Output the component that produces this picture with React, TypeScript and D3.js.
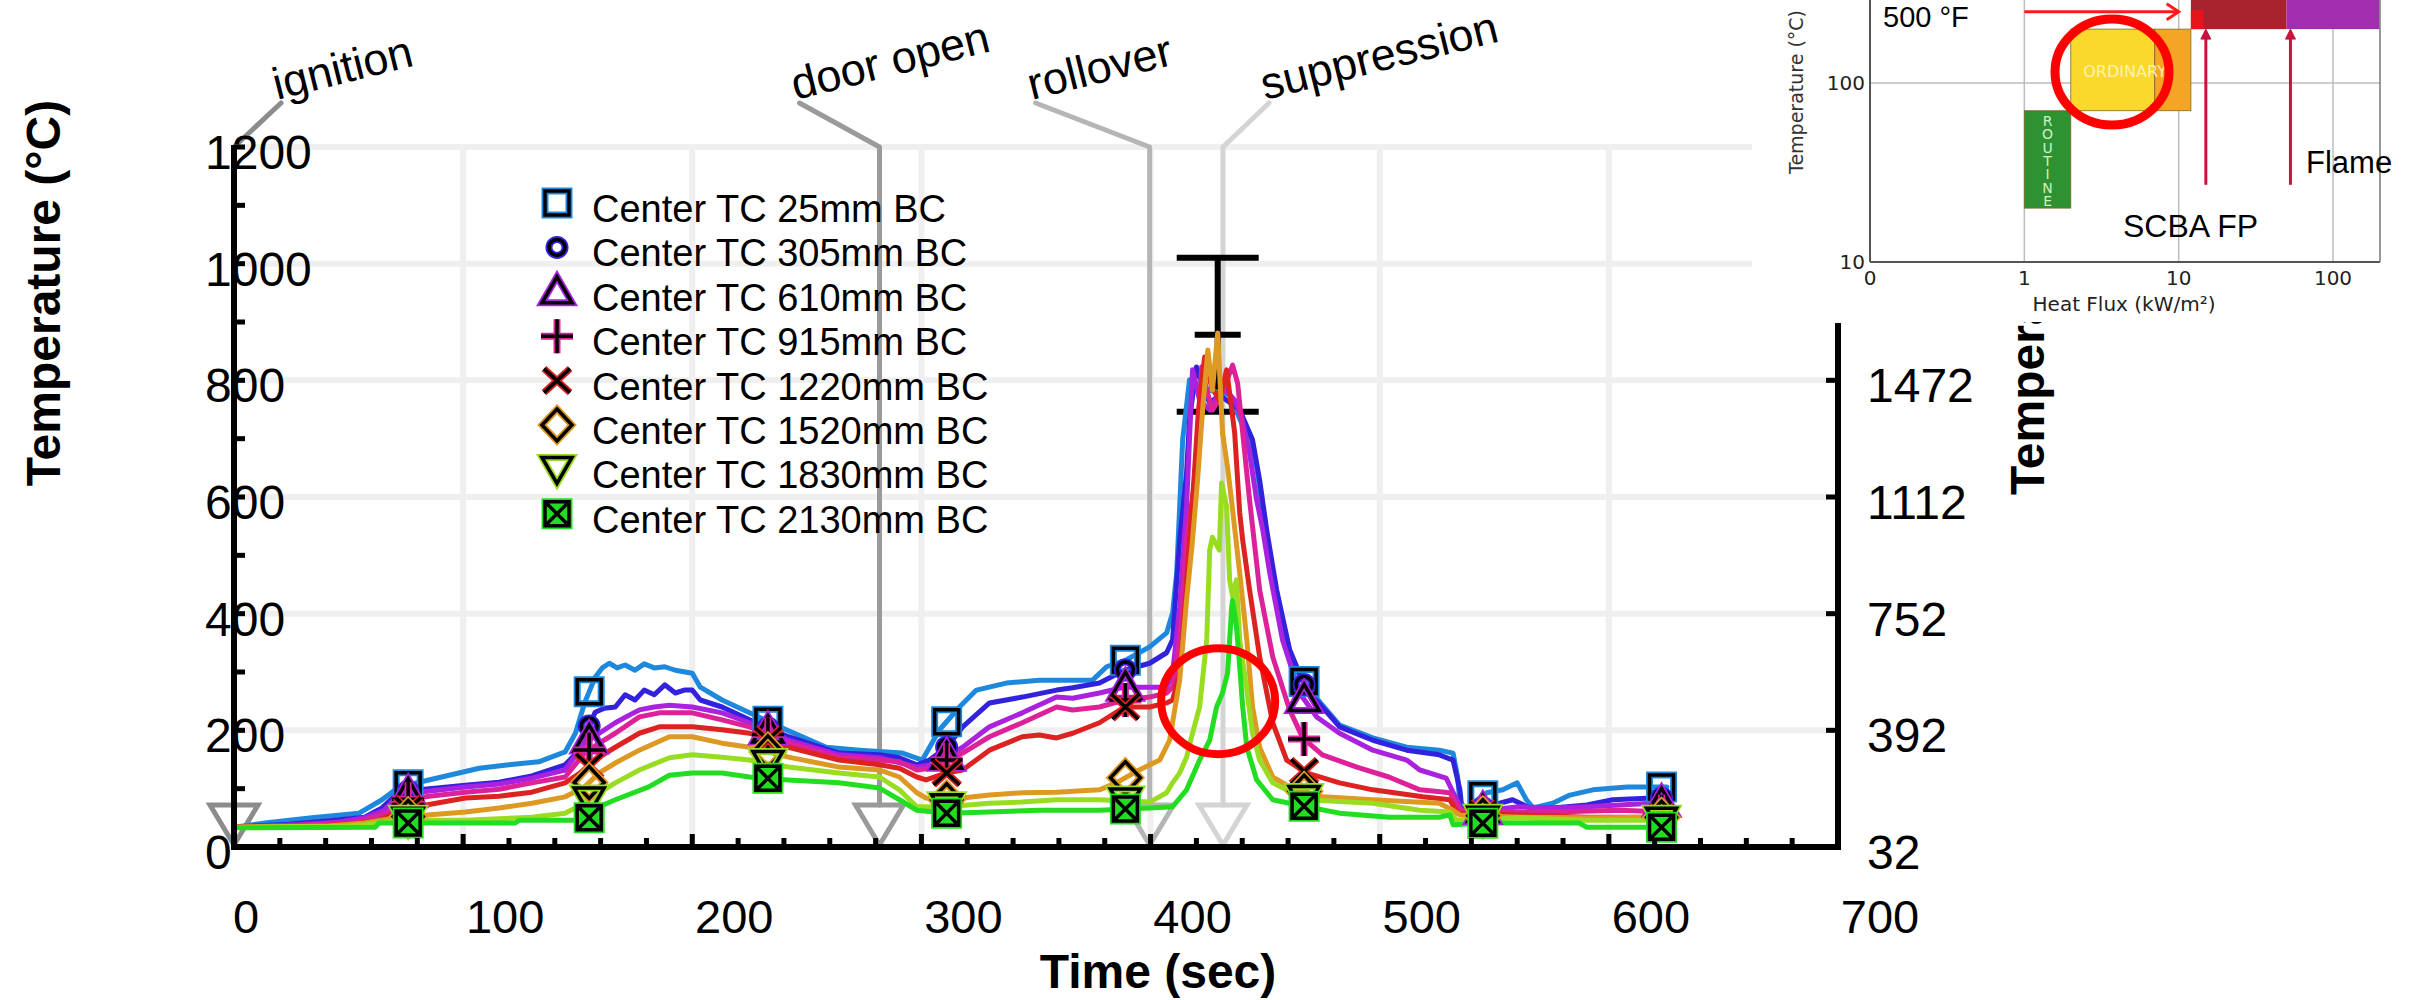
import React from "react";
import * as d3 from "d3";

type Pt = [number, number];

const FONT = "'Liberation Sans', Arial, Helvetica, sans-serif";
const INSET_FONT = "'DejaVu Sans', Verdana, sans-serif";

// ---------------- data ----------------
const seriesNames = [
  "Center TC 25mm BC",
  "Center TC 305mm BC",
  "Center TC 610mm BC",
  "Center TC 915mm BC",
  "Center TC 1220mm BC",
  "Center TC 1520mm BC",
  "Center TC 1830mm BC",
  "Center TC 2130mm BC",
];
const seriesColors = ["#1e88dd", "#3322dd", "#aa22dd", "#dd2299", "#dd2222", "#dd9922", "#99dd22", "#22dd22"];
const seriesMarkers = ["square", "circle", "triangleUp", "plus", "x", "diamond", "triangleDown", "squareX"];

const tc25: Pt[] = [
  [0, 34], [13.5, 41], [34, 50], [54.6, 58], [64.6, 81], [72, 103], [80.8, 111], [93.9, 123], [107, 135], [120, 141],
  [133, 146], [144.5, 163], [149, 195], [153, 247], [157.6, 291], [160.7, 307], [163.8, 315], [167.2, 307], [170.7, 312],
  [175, 303], [179, 314], [183.4, 307], [188, 309], [192.6, 303], [200, 298], [203.5, 274], [213, 252], [225, 230],
  [241, 201], [258.5, 171], [273, 166], [291.7, 161], [300.4, 149], [307.9, 201], [316.6, 240], [324, 269], [337, 281],
  [351.5, 286], [366, 286], [374.7, 286], [380.8, 309], [389.5, 321], [399.6, 343], [407, 367], [409.6, 401], [411.4, 470],
  [412.7, 583], [414, 698], [417, 801], [421.4, 792], [425.8, 783], [434.5, 775], [441, 715], [446.3, 651], [450.7, 526],
  [456.3, 411], [462, 312], [468, 278], [475, 243], [482.5, 209], [497, 187], [511.8, 171], [526, 166], [532, 161],
  [534, 120], [535, 75], [538, 67], [546.7, 93], [553.7, 98], [560, 110], [564, 81], [567, 67], [575.5, 75], [583, 89],
  [593, 98], [608, 103], [625.3, 103],
];
const tc305: Pt[] = [
  [0, 34], [24, 39], [41.5, 45], [57, 51], [64.6, 67], [72, 94], [80.8, 98], [101, 106], [115.7, 111], [130, 122],
  [144.5, 141], [150.7, 166], [153, 189], [157.6, 231], [161.6, 238], [166.4, 240], [170.7, 261], [175, 252], [179, 269],
  [183.4, 261], [188, 278], [192.6, 264], [196.5, 269], [200, 269], [203.5, 252], [213, 240], [225, 218], [242, 189],
  [264, 161], [281.7, 158], [290.4, 153], [298, 141], [303.5, 149], [311, 171], [318, 206], [329.7, 247], [344, 257],
  [359, 269], [366, 273], [377.7, 281], [388.6, 303], [399.6, 315], [407, 333], [409.6, 355], [412.7, 526], [415.7, 641],
  [417, 732], [420, 823], [422.7, 792], [425.8, 761], [430, 775], [433.2, 766], [438.9, 749], [444.5, 698], [447.6, 629],
  [450.7, 543], [455, 441], [460.7, 338], [468, 269], [475, 240], [482.5, 206], [497, 183], [511.8, 166], [526, 158],
  [532, 149], [535, 98], [536, 60], [546.7, 69], [558, 81], [565.5, 67], [575.5, 67], [590.4, 72], [601.7, 81],
  [619, 84], [625.3, 84],
];
const tc610: Pt[] = [
  [0, 34], [28.4, 38], [45.9, 43], [57, 50], [65.5, 63], [72, 89], [80.8, 94], [101, 103], [115.7, 108], [130, 118],
  [144.5, 132], [153, 178], [159.4, 195], [166.4, 213], [172.5, 226], [176.9, 235], [183.4, 240], [190, 243], [200, 240],
  [213, 230], [225, 213], [242, 183], [264, 158], [281.7, 153], [298, 137], [305.7, 141], [311, 154], [318, 171],
  [329.7, 206], [344, 230], [359, 257], [366, 255], [377.7, 264], [388.6, 274], [399.6, 274], [407, 274], [409.6, 298],
  [412.7, 411], [415.7, 583], [418.3, 818], [421.4, 766], [425.8, 749], [431.4, 789], [436.7, 766], [439.7, 737],
  [443.2, 675], [446.3, 595], [449, 543], [452, 470], [457.6, 355], [465, 264], [472.5, 223], [482.5, 195], [497, 166],
  [511.8, 149], [517.5, 132], [529, 118], [533.6, 81], [536, 60], [546.7, 63], [561, 69], [575.5, 67], [590.4, 69],
  [604.8, 72], [619, 75], [625.3, 75],
];
const tc915: Pt[] = [
  [0, 34], [32.8, 38], [50.2, 41], [57, 46], [67.7, 60], [74.2, 81], [85.2, 87], [101, 94], [115.7, 99], [130, 110],
  [144.5, 120], [153, 161], [159.4, 178], [166.4, 195], [176.9, 223], [185.6, 230], [200, 230], [213, 218], [225, 206],
  [242, 178], [264, 154], [281.7, 149], [290.4, 146], [298, 132], [303.5, 135], [311, 149], [318, 161], [329.7, 189],
  [344, 213], [359, 240], [366, 235], [377.7, 240], [388.6, 252], [399.6, 257], [407, 264], [409.6, 274], [412.7, 355],
  [415.7, 526], [420, 646], [422.3, 823], [424.5, 783], [427, 749], [431, 775], [435.8, 826], [438, 795], [440.2, 710],
  [443.2, 595], [447.6, 441], [453.3, 326], [460.7, 235], [466.4, 187], [475, 158], [490, 137], [504, 120], [517.5, 98],
  [530.6, 93], [535, 63], [546.7, 60], [575.5, 60], [604.8, 63], [625.3, 60],
];
const tc1220: Pt[] = [
  [0, 34], [37, 36], [54.6, 41], [63.3, 46], [72, 60], [80.8, 70], [101, 84], [115.7, 87], [130, 94], [144.5, 110],
  [153, 132], [159.4, 154], [166.4, 171], [176.9, 195], [185.6, 206], [200, 206], [213, 201], [225, 195], [242, 171],
  [264, 149], [281.7, 141], [290.4, 135], [298, 120], [302, 115], [311, 127], [318, 132], [329.7, 166], [344, 189],
  [351.5, 192], [359, 187], [366, 195], [377.7, 213], [388.6, 240], [399.6, 240], [407, 247], [409.6, 252], [412.7, 298],
  [414.8, 401], [417, 526], [419.2, 646], [420.9, 749], [423.6, 840], [426.6, 789], [430, 766], [433.2, 818], [434.5, 778],
  [436.7, 710], [438.9, 573], [440.2, 526], [443.2, 441], [447.6, 326], [453.3, 213], [459.4, 149], [468, 127],
  [482.5, 110], [497, 98], [518.8, 86], [530.6, 81], [534, 58], [561, 55], [590.4, 51], [625.3, 51],
];
const tc1520: Pt[] = [
  [0, 34], [41.5, 36], [57, 41], [72, 51], [101, 60], [115.7, 67], [130, 75], [144.5, 86], [153, 103], [159.4, 127],
  [166.4, 144], [176.9, 166], [190, 189], [200, 189], [213, 178], [225, 171], [242, 154], [264, 137], [281.7, 132],
  [290.4, 120], [298, 93], [302, 84], [311, 81], [329.7, 89], [344, 93], [359, 94], [377.7, 98], [385, 110], [395, 132],
  [404, 149], [408.3, 183], [412.7, 286], [415.7, 423], [418.3, 526], [420.5, 629], [422.7, 749], [425, 852], [427, 783],
  [429.3, 881], [431.4, 710], [433.6, 651], [435.8, 578], [438.9, 470], [442, 355], [444.5, 240], [447.6, 171],
  [453.3, 120], [460.7, 103], [475, 86], [497, 81], [526, 75], [532, 63], [535, 55], [561, 51], [590.4, 50], [625.3, 51],
];
const tc1830: Pt[] = [
  [0, 34], [50.2, 36], [57, 38], [72, 46], [101, 46], [130, 51], [144.5, 58], [153, 75], [159.4, 93], [166.4, 110],
  [176.9, 132], [190, 153], [200, 158], [213, 154], [225, 149], [242, 137], [264, 127], [281.7, 120], [290.4, 98],
  [298, 69], [311, 69], [329.7, 75], [344, 77], [359, 81], [377.7, 81], [399.6, 77], [407, 93], [409.6, 110], [412.7, 127],
  [415.7, 154], [418.3, 195], [421.4, 240], [424.5, 355], [425.8, 509], [427, 531], [430, 509], [431, 624], [433.2, 583],
  [434.5, 458], [435.8, 429], [437.5, 458], [438.9, 355], [442, 269], [444.5, 195], [447.6, 149], [453.3, 110], [468, 81],
  [497, 75], [517.5, 63], [530.6, 60], [533.6, 46], [561, 50], [590.4, 46], [625.3, 46],
];
const tc2130: Pt[] = [
  [0, 33], [61.6, 34], [63.3, 41], [122.7, 41], [124.5, 46], [149, 46], [155, 50], [159.4, 69], [166.4, 81], [181, 103],
  [190, 123], [200, 127], [213, 127], [225, 120], [242, 115], [264, 110], [281.7, 101], [290.4, 81], [298, 63], [311, 58],
  [329.7, 60], [351.5, 63], [377.7, 63], [399.6, 67], [409.6, 69], [415.7, 98], [421.4, 149], [425.8, 183], [428.8, 240],
  [431.4, 264], [433.6, 298], [435.4, 411], [435.8, 423], [437.5, 377], [438.9, 309], [440.2, 240], [442, 171],
  [446.3, 115], [453.3, 81], [468, 69], [482.5, 58], [504, 51], [526, 51], [530.6, 55], [532, 38], [546.7, 41], [587, 41],
  [590.4, 34], [625.3, 34],
];
const seriesData: Pt[][] = [tc25, tc305, tc610, tc915, tc1220, tc1520, tc1830, tc2130];

const markerTimes = [76, 155, 233, 311, 389, 467, 545, 623];

const xTickValues = [0, 100, 200, 300, 400, 500, 600, 700];
const xMinorTicks = d3.range(0, 701, 20);
const yTickValues = [0, 200, 400, 600, 800, 1000, 1200];
const yMinorTicks = [100, 300, 500, 700, 900, 1100];
const rightTicksC = [0, 200, 400, 600, 800];

const eventNames = ["ignition", "door open", "rollover", "suppression"];
const eventTimes = [0, 281.7, 399.6, 431.6];
const eventColors = ["#8c8c8c", "#9a9a9a", "#b5b5b5", "#d4d4d4"];
const eventLeaderDx = [47, -80, -114, 46];

const peakTime = 429.3;
const peakMean = 878;
const peakLow = 746;
const peakHigh = 1010;
const highlightTime = 429.5;
const highlightTemp = 250;

// inset (heat flux / temperature classes)
const insetFluxTicks = [0.1, 1, 10, 100];
const insetFluxTickLabels = ["0", "1", "10", "100"];
const insetTempTicks = [10, 100];
const insetBandNames = ["ROUTINE", "ORDINARY", "", "", "", ""];
const insetBandFlux: Pt[] = [[1, 2], [2, 7], [7, 12], [12, 50], [50, 200], [12, 14.5]];
const insetBandTemp: Pt[] = [[20, 70], [70, 200], [70, 200], [200, 400], [200, 400], [200, 255]];
const insetBandColors = ["#2f9232", "#fad82c", "#f5a524", "#a9232f", "#a02eae", "#e8141c"];

// ---------------- helpers ----------------
function valueAt(data: Pt[], t: number) {
  const i = d3.bisector((d: Pt) => d[0]).right(data, t);
  if (i <= 0) return data[0][1];
  if (i >= data.length) return data[data.length - 1][1];
  const [t0, v0] = data[i - 1];
  const [t1, v1] = data[i];
  return v0 + ((v1 - v0) * (t - t0)) / (t1 - t0);
}

const markerPaths: Record<string, string> = {
  square: "M-12,-12H12V12H-12Z",
  triangleUp: "M0,-15L15,11L-15,11Z",
  plus: "M-16,0H16M0,-17V17",
  x: "M-13,-12L13,12M-13,12L13,-12",
  diamond: "M0,-16L15,0L0,16L-15,0Z",
  triangleDown: "M-15,-12L15,-12L0,14Z",
  squareX: "M-12,-12H12V12H-12ZM-12,-12L12,12M-12,12L12,-12",
};

function Marker({ type, color, cx, cy }: { type: string; color: string; cx: number; cy: number }) {
  if (type === "circle") {
    return (
      <g transform={`translate(${cx},${cy})`}>
        <circle r={8} fill="none" stroke={color} strokeWidth={7} />
        <circle r={8} fill="none" stroke="#000" strokeWidth={3.5} />
      </g>
    );
  }
  const d = markerPaths[type];
  return (
    <g transform={`translate(${cx},${cy})`}>
      <path d={d} fill={type === "squareX" ? color : "none"} stroke={color} strokeWidth={7} strokeLinejoin="miter" />
      <path d={d} fill="none" stroke="#000" strokeWidth={3.5} strokeLinejoin="miter" />
    </g>
  );
}

export default function App() {
  const W = 2409;
  const H = 1000;
  const x = d3.scaleLinear().domain([0, 700]).range([234, 1838]);
  const y = d3.scaleLinear().domain([0, 1200]).range([847, 147]);
  const line = d3
    .line<Pt>()
    .x((d) => x(d[0]))
    .y((d) => y(d[1]));

  const ix = d3.scaleLog().domain([0.1, 100]).range([1870, 2333]);
  const iy = d3.scaleLog().domain([10, 100]).range([262, 83]);

  const axisY0 = y(0);
  const legendX = 557;
  const legendBase = 222;
  const legendStep = 44.4;

  return (
    <svg
      width={W}
      height={H}
      viewBox={`0 0 ${W} ${H}`}
      style={{ position: "absolute", left: 0, top: 0, background: "#fff" }}
      fontFamily={FONT}
    >
      <rect x={0} y={0} width={W} height={H} fill="#fff" />

      {/* gridlines */}
      {yTickValues.filter((v) => v > 0).map((v) => (
        <line key={"gy" + v} x1={x(0)} x2={x(700)} y1={y(v)} y2={y(v)} stroke="#efefef" strokeWidth={6} />
      ))}
      {xTickValues.filter((t) => t > 0 && t < 700).map((t) => (
        <line key={"gx" + t} x1={x(t)} x2={x(t)} y1={y(1200)} y2={y(0)} stroke="#efefef" strokeWidth={6} />
      ))}

      {/* event lines */}
      {eventTimes.map((t, i) => {
        const ex = x(t);
        return (
          <g key={"ev" + i} fill="none" stroke={eventColors[i]} strokeWidth={5}>
            <path d={`M${ex + eventLeaderDx[i]},103L${ex},${y(1200)}V805`} strokeLinejoin="round" strokeLinecap="round" />
            <path d={`M${ex - 24},805L${ex + 24},805L${ex},${axisY0 - 2}Z`} />
          </g>
        );
      })}

      {/* error bar */}
      <g stroke="#000" strokeWidth={6}>
        <line x1={x(peakTime)} x2={x(peakTime)} y1={y(peakHigh)} y2={y(peakLow)} />
        <line x1={x(peakTime) - 41} x2={x(peakTime) + 41} y1={y(peakHigh)} y2={y(peakHigh)} />
        <line x1={x(peakTime) - 23} x2={x(peakTime) + 23} y1={y(peakMean)} y2={y(peakMean)} />
        <line x1={x(peakTime) - 41} x2={x(peakTime) + 41} y1={y(peakLow)} y2={y(peakLow)} />
      </g>

      {/* series lines */}
      {seriesData.map((data, i) => (
        <path
          key={"s" + i}
          d={line(data) || ""}
          fill="none"
          stroke={seriesColors[i]}
          strokeWidth={5}
          strokeLinejoin="round"
          strokeLinecap="round"
        />
      ))}

      {/* markers */}
      {seriesData.map((data, i) =>
        markerTimes.map((t) => (
          <Marker
            key={"m" + i + "-" + t}
            type={seriesMarkers[i]}
            color={seriesColors[i]}
            cx={x(t)}
            cy={y(valueAt(data, t))}
          />
        ))
      )}

      {/* highlight ellipse */}
      <ellipse cx={x(highlightTime)} cy={y(highlightTemp)} rx={57} ry={53} fill="none" stroke="#ff0000" strokeWidth={8} />

      {/* legend */}
      {seriesNames.map((name, i) => {
        const base = legendBase + i * legendStep;
        return (
          <g key={"lg" + i}>
            <Marker type={seriesMarkers[i]} color={seriesColors[i]} cx={legendX} cy={base - 19} />
            <text x={legendX + 35} y={base} fontSize={38} fill="#000">
              {name}
            </text>
          </g>
        );
      })}

      {/* axes */}
      <line x1={x(0) - 3} x2={x(700) + 3} y1={axisY0} y2={axisY0} stroke="#000" strokeWidth={6} />
      <line x1={x(0)} x2={x(0)} y1={y(1200) - 2} y2={axisY0 + 3} stroke="#000" strokeWidth={6} />
      <line x1={x(700)} x2={x(700)} y1={323} y2={axisY0 + 3} stroke="#000" strokeWidth={6} />
      {xMinorTicks.map((t) => (
        <line
          key={"xt" + t}
          x1={x(t)}
          x2={x(t)}
          y1={axisY0}
          y2={axisY0 - (t % 100 === 0 ? 13 : 9)}
          stroke="#000"
          strokeWidth={5}
        />
      ))}
      {[...yTickValues, ...yMinorTicks].map((v) => (
        <line key={"yt" + v} x1={x(0)} x2={x(0) + 11} y1={y(v)} y2={y(v)} stroke="#000" strokeWidth={5} />
      ))}
      {rightTicksC.map((v) => (
        <line key={"rt" + v} x1={x(700)} x2={x(700) - 12} y1={y(v)} y2={y(v)} stroke="#000" strokeWidth={5} />
      ))}

      {/* tick labels */}
      {yTickValues.map((v) => (
        <text key={"yl" + v} x={205} y={y(v) + 22} fontSize={48} fill="#000">
          {v}
        </text>
      ))}
      {xTickValues.map((t) => (
        <text key={"xl" + t} x={x(t) + (t === 0 ? 12 : 42)} y={933} fontSize={47} textAnchor="middle" fill="#000">
          {t}
        </text>
      ))}
      {rightTicksC.map((v) => (
        <text key={"rl" + v} x={1867} y={y(v) + 22} fontSize={48} fill="#000">
          {Math.round((v * 9) / 5 + 32)}
        </text>
      ))}

      {/* axis titles */}
      <text transform="translate(60,293) rotate(-90)" textAnchor="middle" fontSize={48} fontWeight="bold" fill="#000">
        Temperature (°C)
      </text>
      <text x={1158} y={988} textAnchor="middle" fontSize={48} fontWeight="bold" fill="#000">
        Time (sec)
      </text>
      <text transform="translate(2044,495) rotate(-90)" textAnchor="start" fontSize={48} fontWeight="bold" fill="#000">
        Temperature (°F)
      </text>

      {/* event labels */}
      {eventTimes.map((t, i) => (
        <text
          key={"el" + i}
          transform={`translate(${x(t) + eventLeaderDx[i] - 4},100) rotate(-14)`}
          fontSize={45}
          fill="#000"
        >
          {eventNames[i]}
        </text>
      ))}

      {/* inset image */}
      <g>
        <rect x={1752} y={0} width={W - 1752} height={322} fill="#fff" />
        {insetFluxTicks.slice(1).map((f) => (
          <line key={"ig" + f} x1={ix(f)} x2={ix(f)} y1={0} y2={262} stroke="#bdbdbd" strokeWidth={1.5} />
        ))}
        <line x1={1870} x2={2380} y1={iy(100)} y2={iy(100)} stroke="#bdbdbd" strokeWidth={1.5} />
        {insetBandFlux.map((fx, i) => (
          <rect
            key={"ib" + i}
            x={ix(fx[0])}
            y={Math.max(0, iy(insetBandTemp[i][1]))}
            width={ix(fx[1]) - ix(fx[0])}
            height={iy(insetBandTemp[i][0]) - Math.max(0, iy(insetBandTemp[i][1]))}
            fill={insetBandColors[i]}
            stroke={i < 3 ? "#7a6a20" : "none"}
            strokeWidth={0.8}
          />
        ))}
        <text x={2125} y={77} fontSize={16} fill="#fff6c0" textAnchor="middle" fontFamily={INSET_FONT} opacity={0.9}>
          {insetBandNames[1]}
        </text>
        {insetBandNames[0].split("").map((ch, k) => (
          <text
            key={"rt" + k}
            x={(ix(insetBandFlux[0][0]) + ix(insetBandFlux[0][1])) / 2}
            y={126 + k * 13.3}
            fontSize={14}
            fill="#cdf3c0"
            textAnchor="middle"
            fontFamily={INSET_FONT}
          >
            {ch}
          </text>
        ))}
        {/* spines */}
        <line x1={1870} x2={1870} y1={0} y2={262} stroke="#555" strokeWidth={2} />
        <line x1={1870} x2={2380} y1={262} y2={262} stroke="#555" strokeWidth={2} />
        <line x1={2380} x2={2380} y1={0} y2={262} stroke="#777" strokeWidth={1.5} />
        {insetFluxTicks.map((f, k) => (
          <text key={"ixl" + f} x={ix(f)} y={285} fontSize={20} textAnchor="middle" fill="#222" fontFamily={INSET_FONT}>
            {insetFluxTickLabels[k]}
          </text>
        ))}
        {insetTempTicks.map((tv) => (
          <text key={"iyl" + tv} x={1865} y={iy(tv) + 7} fontSize={20} textAnchor="end" fill="#222" fontFamily={INSET_FONT}>
            {tv}
          </text>
        ))}
        <text x={2124} y={311} fontSize={20} textAnchor="middle" fill="#222" fontFamily={INSET_FONT}>
          Heat Flux (kW/m²)
        </text>
        <text transform="translate(1803,174) rotate(-90)" fontSize={19} fill="#333" fontFamily={INSET_FONT}>
          Temperature (°C)
        </text>
        {/* arrows */}
        <g stroke="#ff1a1a" strokeWidth={3} fill="none">
          <line x1={ix(1)} x2={ix(10)} y1={iy(250)} y2={iy(250)} />
          <path d={`M${ix(10) - 12},${iy(250) - 8}L${ix(10)},${iy(250)}L${ix(10) - 12},${iy(250) + 8}`} />
        </g>
        {[15, 53].map((f) => (
          <g key={"va" + f} stroke="#c8143c" strokeWidth={3} fill="#c8143c">
            <line x1={ix(f)} x2={ix(f)} y1={iy(27)} y2={iy(200) + 6} />
            <path d={`M${ix(f) - 5},${iy(200) + 10}L${ix(f)},${iy(200)}L${ix(f) + 5},${iy(200) + 10}Z`} strokeWidth={1} />
          </g>
        ))}
        <text x={1883} y={27} fontSize={29} fill="#000">
          500 °F
        </text>
        <text x={2306} y={173} fontSize={31} fill="#000">
          Flame
        </text>
        <text x={2123} y={237} fontSize={32} fill="#000">
          SCBA FP
        </text>
        <ellipse cx={2112} cy={72} rx={57} ry={53} fill="none" stroke="#ff0000" strokeWidth={9} />
      </g>
    </svg>
  );
}
